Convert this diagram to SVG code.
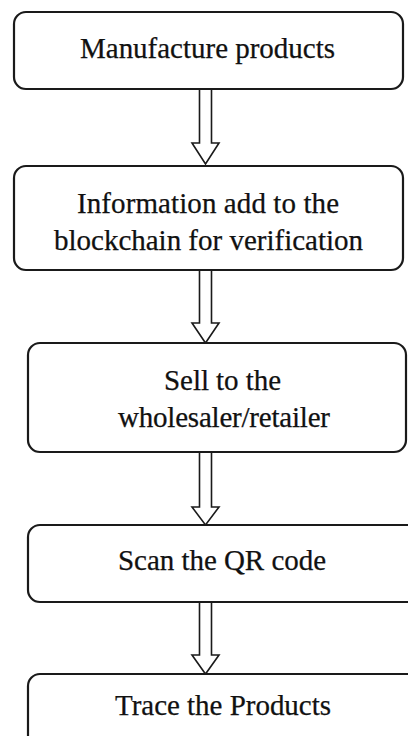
<svg xmlns="http://www.w3.org/2000/svg" width="408" height="736" viewBox="0 0 408 736">
<style>
.box{fill:#fff;stroke:#1a1a1a;stroke-width:2.2}
.arr{fill:#fff;stroke:#1a1a1a;stroke-width:1.6;stroke-linejoin:miter}
text{font-family:'Liberation Serif','Times New Roman',serif;font-size:29px;fill:#111;stroke:#111;stroke-width:0.25}
</style>
<rect width="408" height="736" fill="#fff"/>
<g id="connectors">
<path class="arr" d="M199.5,89 V143 H192 L205.5,164 L219,143 H211.5 V89 Z"/>
<path class="arr" d="M199.5,270 V323 H192 L205.5,343 L219,323 H211.5 V270 Z"/>
<path class="arr" d="M199.5,452 V507 H192 L205.5,525 L219,507 H211.5 V452 Z"/>
<path class="arr" d="M199.5,602 V655 H192 L205.5,674 L219,655 H211.5 V602 Z"/>
</g>
<g id="n1">
<rect class="box" x="14" y="12" width="389" height="77" rx="12"/>
<text x="80" y="58" textLength="255" lengthAdjust="spacing">Manufacture products</text>
</g>
<g id="n2">
<rect class="box" x="14" y="166" width="389" height="104" rx="12"/>
<text x="77" y="213" textLength="262" lengthAdjust="spacing">Information add to the</text>
<text x="54" y="250" textLength="309" lengthAdjust="spacing">blockchain for verification</text>
</g>
<g id="n3">
<rect class="box" x="28" y="343" width="378" height="109" rx="12"/>
<text x="164" y="390" textLength="117" lengthAdjust="spacing">Sell to the</text>
<text x="118" y="427" textLength="212" lengthAdjust="spacing">wholesaler/retailer</text>
</g>
<g id="n4">
<rect class="box" x="28" y="525" width="400" height="77" rx="12"/>
<text x="118" y="570" textLength="208" lengthAdjust="spacing">Scan the QR code</text>
</g>
<g id="n5">
<rect class="box" x="28" y="674" width="400" height="90" rx="12"/>
<text x="115" y="715" textLength="216" lengthAdjust="spacing">Trace the Products</text>
</g>
</svg>
